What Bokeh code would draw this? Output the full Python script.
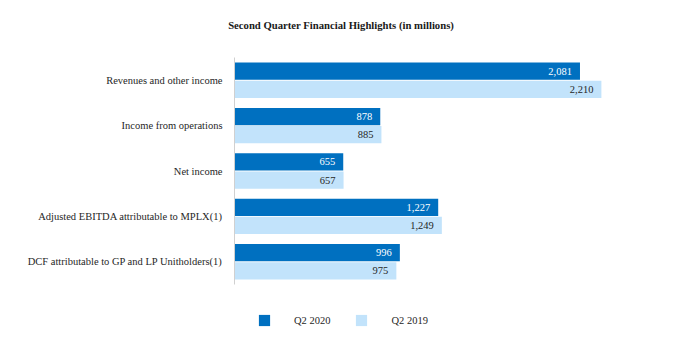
from bokeh.plotting import figure
from bokeh.layouts import column
from bokeh.models import FactorRange, Range1d, Legend, LegendItem, ColumnDataSource, Div
from bokeh.transform import dodge
from bokeh.core.properties import value
from bokeh.embed import file_html
from bokeh.resources import INLINE

categories = [
    "Revenues and other income",
    "Income from operations",
    "Net income",
    "Adjusted EBITDA attributable to MPLX(1)",
    "DCF attributable to GP and LP Unitholders(1)",
]
q2_2020 = [2081, 878, 655, 1227, 996]
q2_2019 = [2210, 885, 657, 1249, 975]
series_names = ["Q2 2020", "Q2 2019"]
title_text = "Second Quarter Financial Highlights (in millions)"

DARK = "#0070C0"
LIGHT = "#C2E3FB"
FONT = "Liberation Serif"
FS = "10.5px"

src = ColumnDataSource(dict(
    cat=categories,
    v20=q2_2020,
    v19=q2_2019,
    t20=[f"{v:,}" for v in q2_2020],
    t19=[f"{v:,}" for v in q2_2019],
))

title = Div(
    text=title_text, width=682, height=45,
    styles={"text-align": "center", "font-family": FONT, "font-weight": "bold",
            "font-size": "10.7px", "color": "#1a1a1a", "padding-top": "18px",
            "width": "682px", "margin": "0"},
)

p = figure(
    width=682, height=255,
    y_range=FactorRange(factors=list(reversed(categories))),
    x_range=Range1d(0, 2566),
    output_backend="svg", toolbar_location=None,
    min_border_left=234, min_border_right=22,
    min_border_top=12, min_border_bottom=16,
    outline_line_color=None,
)

r20 = p.hbar(y=dodge("cat", 0.2, range=p.y_range), right="v20", left=0, height=0.38,
             source=src, fill_color=DARK, line_color=None)
r19 = p.hbar(y=dodge("cat", -0.2, range=p.y_range), right="v19", left=0, height=0.38,
             source=src, fill_color=LIGHT, line_color=None)

p.text(x="v20", y=dodge("cat", 0.2, range=p.y_range), text="t20", source=src,
       x_offset=-8, text_align="right", text_baseline="middle",
       text_font=value(FONT), text_font_size=FS, text_color="white")
p.text(x="v19", y=dodge("cat", -0.2, range=p.y_range), text="t19", source=src,
       x_offset=-8, text_align="right", text_baseline="middle",
       text_font=value(FONT), text_font_size=FS, text_color="#262626")

p.xaxis.visible = False
p.xgrid.visible = False
p.ygrid.visible = False
yax = p.yaxis[0]
yax.axis_line_color = "#d0d0d0"
yax.major_tick_line_color = None
yax.minor_tick_line_color = None
yax.major_tick_out = 0
yax.major_tick_in = 0
yax.major_label_standoff = 12
yax.major_label_text_font = FONT
yax.major_label_text_font_size = FS
yax.major_label_text_color = "#262626"

# legend strip below the chart
lg = figure(
    width=682, height=56,
    x_range=Range1d(0, 1), y_range=FactorRange(factors=categories),
    output_backend="svg", toolbar_location=None,
    x_axis_location=None, y_axis_location=None,
    min_border_left=0, min_border_right=0, min_border_top=0, min_border_bottom=0,
    outline_line_color=None,
)
lg.xgrid.visible = False
lg.ygrid.visible = False
d20 = lg.hbar(y="cat", right="v20", left=0, height=0.5, source=src,
              fill_color=DARK, line_color=None, visible=False)
d19 = lg.hbar(y="cat", right="v19", left=0, height=0.5, source=src,
              fill_color=LIGHT, line_color=None, visible=False)

legend = Legend(
    items=[LegendItem(label=series_names[0], renderers=[d20]),
           LegendItem(label=series_names[1], renderers=[d19])],
    orientation="horizontal",
    location=(23, 29),
    padding=0, margin=0, spacing=24,
    glyph_width=14, glyph_height=14, label_standoff=23,
    label_text_font=FONT, label_text_font_size=FS, label_text_color="#262626",
    border_line_color=None, background_fill_alpha=0,
    inactive_fill_alpha=0,
)
lg.add_layout(legend, "center")

layout = column(title, p, lg, spacing=0)
open("out.html", "w").write(file_html(layout, INLINE))
